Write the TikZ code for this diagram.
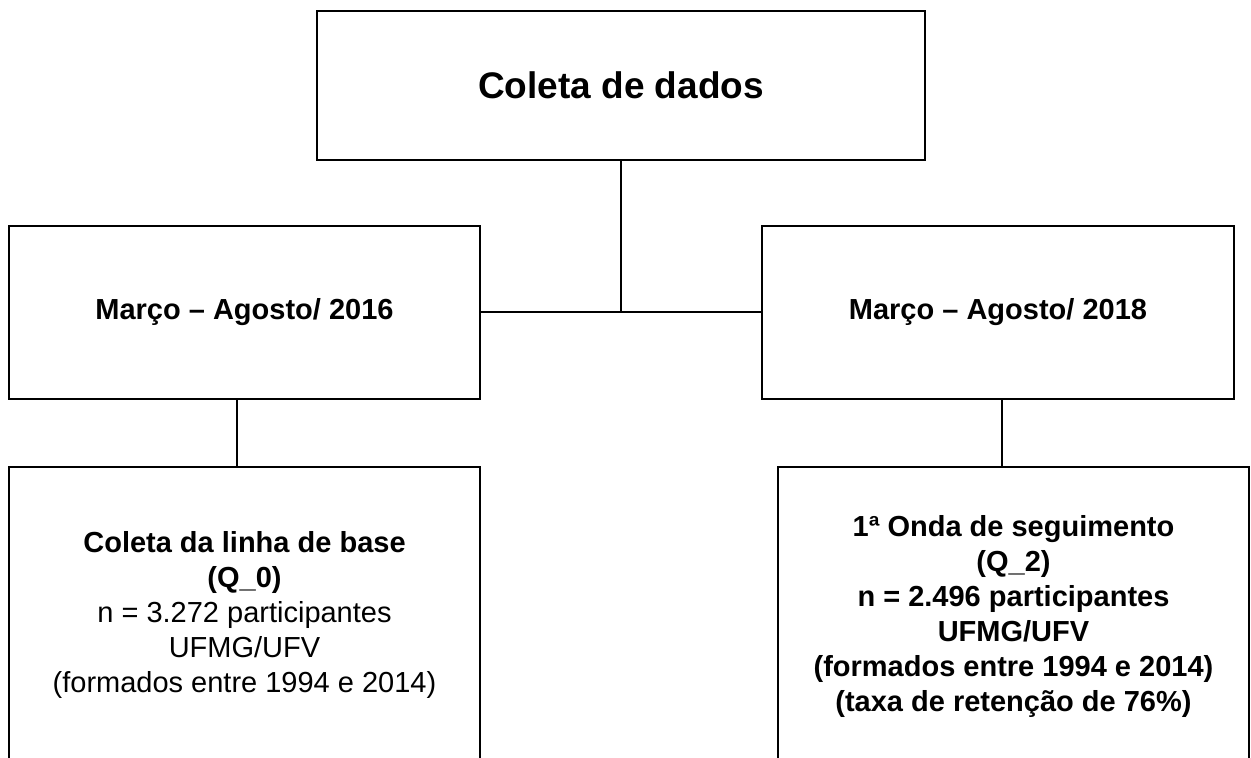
\documentclass[tikz,border=0pt]{standalone}
\usepackage{fontspec}
\setmainfont{Liberation Sans}
\begin{document}
\begin{tikzpicture}[x=1pt,y=1pt,
  box/.style={draw=black, line width=2.2pt, fill=white, inner sep=0pt, align=center,
    font=\fontsize{29}{35}\selectfont},
  titlebox/.style={box, font=\fontsize{37}{44}\selectfont\bfseries},
  link/.style={draw=black, line width=2pt}]
\useasboundingbox (0,0) rectangle (1251,758);
\begin{scope}
\clip (0,0) rectangle (1251,758);
\node[titlebox, minimum width=608, minimum height=149] (top) at (621,672.5) {Coleta de dados};
\node[box, minimum width=471, minimum height=173] (lm) at (244.5,445.5) {\bfseries Março – Agosto/ 2016};
\node[box, minimum width=472, minimum height=173] (rm) at (998,445.5) {\bfseries Março – Agosto/ 2018};
\node[box, minimum width=471, minimum height=296] (lb) at (244.5,143)
  {\bfseries Coleta da linha de base\\ \bfseries (Q\_0)\\ n = 3.272 participantes\\ UFMG/UFV\\ (formados entre 1994 e 2014)};
\node[box, minimum width=471, minimum height=299, font=\fontsize{29}{35}\selectfont\bfseries] (rb) at (1013.5,141.5)
  {1ª Onda de seguimento\\ (Q\_2)\\ n = 2.496 participantes\\ UFMG/UFV\\ (formados entre 1994 e 2014)\\ (taxa de retenção de 76\%)};
\coordinate (lx) at (237,0);
\coordinate (rx) at (1002,0);
\draw[link] (lm.east) -- (rm.west);
\draw[link] (top.south) -- (top.south |- lm.east);
\draw[link] (lx |- lm.south) -- (lx |- lb.north);
\draw[link] (rx |- rm.south) -- (rx |- rb.north);
\end{scope}
\end{tikzpicture}
\end{document}
